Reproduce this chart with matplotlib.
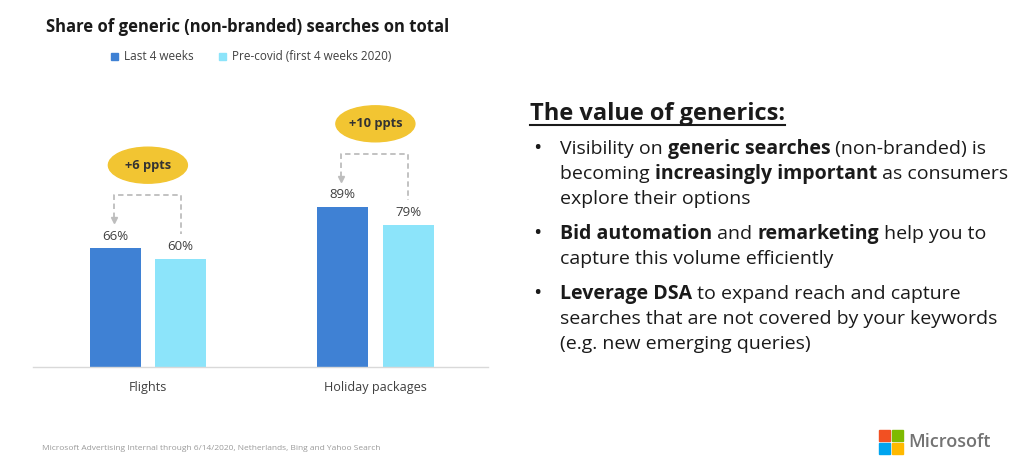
import numpy as np
import matplotlib
matplotlib.use("Agg")
import matplotlib.pyplot as plt
from matplotlib.patches import Ellipse, Rectangle
from matplotlib.lines import Line2D

# data
categories = ["Flights", "Holiday packages"]
last_4_weeks = [66, 89]
pre_covid = [60, 79]
uplift_labels = ["+6 ppts", "+10 ppts"]
series_names = ["Last 4 weeks", "Pre-covid (first 4 weeks 2020)"]

DARK = "#3F81D4"
LIGHT = "#8CE4FA"
GOLD = "#F2C532"
DASH = "#BDBDBD"
FONT = "Open Sans"

plt.rcParams["font.family"] = [FONT, "DejaVu Sans"]

fig = plt.figure(figsize=(10.24, 4.73), dpi=100)
W, H = 1024, 473

# chart axes: baseline at y=367px, spans x 33..488px
ax = fig.add_axes([33 / W, 1 - 367 / H, (488 - 33) / W, (367 - 80) / H])
px_per_unit = 1.8
ax.set_ylim(0, (367 - 80) / px_per_unit)
ax.set_xlim(-0.505, 1.495)

x = np.arange(len(categories))
off = 0.144
bw = 0.224
b1 = ax.bar(x - off, last_4_weeks, bw, color=DARK, zorder=2)
b2 = ax.bar(x + off, pre_covid, bw, color=LIGHT, zorder=2)

for bars, vals in [(b1, last_4_weeks), (b2, pre_covid)]:
    for r, v in zip(bars, vals):
        ax.annotate(f"{v}%", (r.get_x() + r.get_width() / 2, v),
                    xytext=(0, 4), textcoords="offset points",
                    ha="center", va="bottom", fontsize=9.5, color="#404040")

# dashed brackets and uplift bubbles
u = 1 / px_per_unit
for i in range(len(categories)):
    top = max(last_4_weeks[i], pre_covid[i])
    xl, xr = x[i] - off - 0.005, x[i] + off
    yh = top + 53 * u
    ax.plot([xl, xl, xr, xr],
            [last_4_weeks[i] + 30 * u, yh, yh, pre_covid[i] + 25 * u],
            ls=(0, (3, 2)), color=DASH, lw=1.3, zorder=3)
    ax.plot([xl], [last_4_weeks[i] + 28 * u], marker="v", color=DASH,
            markersize=5, zorder=3)
    yc = top + 83 * u
    ax.add_patch(Ellipse((x[i], yc), 79 / 227.5, 36 * u, color=GOLD, zorder=3))
    ax.text(x[i], yc, uplift_labels[i], ha="center", va="center",
            fontsize=9.3, weight="bold", color="#333333", zorder=4)

ax.set_xticks(x)
ax.set_xticklabels(categories, fontsize=9.1, color="#404040")
ax.tick_params(axis="x", length=0, pad=10)
ax.set_yticks([])
for s in ["top", "right", "left"]:
    ax.spines[s].set_visible(False)
ax.spines["bottom"].set_color("#D9D9D9")
ax.spines["bottom"].set_linewidth(1)

fig.text(248 / W, 1 - 27 / H, "Share of generic (non-branded) searches on total",
         ha="center", va="center", fontsize=12, weight="bold", color="#1a1a1a")
handles = [Rectangle((0, 0), 1, 1, color=DARK), Rectangle((0, 0), 1, 1, color=LIGHT)]
fig.legend(handles, series_names, loc="center", bbox_to_anchor=(251 / W, 1 - 57 / H),
           ncol=2, frameon=False, handlelength=0.6, handleheight=0.6,
           handletextpad=0.5, columnspacing=2.2, fontsize=8.5,
           labelcolor="#404040")

# right-hand text block
renderer = fig.canvas.get_renderer()


def text_width(s, size, weight):
    t1 = fig.text(0, 0, "|" + s + "|", fontsize=size, weight=weight)
    t2 = fig.text(0, 0, "||", fontsize=size, weight=weight)
    w = t1.get_window_extent(renderer).width - t2.get_window_extent(renderer).width
    t1.remove()
    t2.remove()
    return w


def rich_line(x0, y0, parts, size):
    xp = x0
    for s, bold in parts:
        wt = "bold" if bold else "normal"
        fig.text(xp / W, 1 - y0 / H, s, fontsize=size, weight=wt,
                 va="baseline", color="#1a1a1a")
        xp += text_width(s, size, wt)
    return xp


hx = rich_line(530, 120, [("The value of generics:", True)], 17)
fig.add_artist(Line2D([530 / W, hx / W], [1 - 125 / H] * 2, color="#1a1a1a", lw=1.5))

body = 14
lines = [
    (154, True, [("Visibility on ", False), ("generic searches", True), (" (non-branded) is", False)]),
    (179, False, [("becoming ", False), ("increasingly important", True), (" as consumers", False)]),
    (204, False, [("explore their options", False)]),
    (239, True, [("Bid automation", True), (" and ", False), ("remarketing", True), (" help you to", False)]),
    (264, False, [("capture this volume efficiently", False)]),
    (299, True, [("Leverage DSA", True), (" to expand reach and capture", False)]),
    (324, False, [("searches that are not covered by your keywords", False)]),
    (349, False, [("(e.g. new emerging queries)", False)]),
]
for y0, bullet, parts in lines:
    if bullet:
        fig.text(533 / W, 1 - y0 / H, "•", fontsize=body + 2, va="baseline",
                 color="#1a1a1a")
    rich_line(560, y0, parts, body)

fig.text(42 / W, 1 - 448 / H,
         "Microsoft Advertising Internal through 6/14/2020, Netherlands, Bing and Yahoo Search",
         fontsize=6, color="#9a9a9a", va="center")

# Microsoft logo
sq, gap = 11, 2
for (cx, cy), c in zip([(0, 0), (1, 0), (0, 1), (1, 1)],
                       ["#F25022", "#7FBA00", "#00A4EF", "#FFB900"]):
    fig.add_artist(Rectangle(((879 + cx * (sq + gap)) / W, 1 - (430 + (cy + 1) * sq + cy * gap) / H),
                             sq / W, sq / H, color=c, transform=fig.transFigure))
fig.text(908 / W, 1 - 442 / H, "Microsoft", fontsize=13, color="#737373",
         va="center", weight="semibold")

fig.savefig("out.png", dpi=100)
